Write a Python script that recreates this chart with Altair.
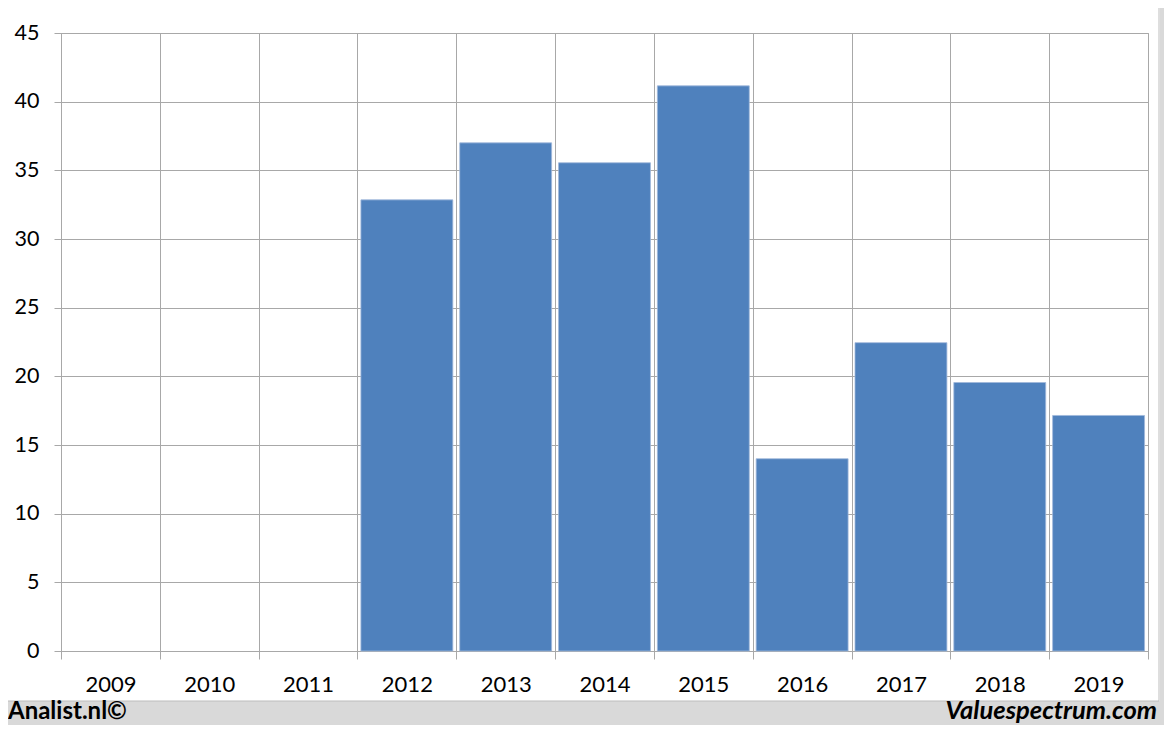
import altair as alt
import pandas as pd

years = ["2009", "2010", "2011", "2012", "2013", "2014", "2015", "2016", "2017", "2018", "2019"]
values = [None, None, None, 32.85, 37.0, 35.55, 41.15, 14.0, 22.45, 19.55, 17.15]
y_ticks = [0, 5, 10, 15, 20, 25, 30, 35, 40, 45]
left_text = "Analist.nl©"
right_text = "Valuespectrum.com"

df = pd.DataFrame({"year": years, "value": values})

GRID = "#a8a8a8"
BAR = "#4f81bd"
FRAME = "#d9d9d9"

bars = alt.Chart(df).mark_bar(
    color=BAR, stroke="#9fb7da", strokeWidth=0.8, width=alt.RelativeBandSize(0.93)
).encode(
    x=alt.X("year:N", sort=years,
            scale=alt.Scale(domain=years, paddingInner=0, paddingOuter=0),
            axis=alt.Axis(title=None, labelAngle=0, tickBand="extent", grid=True,
                          gridColor=GRID, gridWidth=1, domainColor=GRID, tickColor=GRID,
                          tickSize=8, labelFont="Lato", labelFontSize=22, labelColor="black",
                          labelPadding=15)),
    y=alt.Y("value:Q",
            scale=alt.Scale(domain=[0, 45], nice=False),
            axis=alt.Axis(title=None, values=y_ticks, grid=True, gridColor=GRID, gridWidth=1,
                          domainColor=GRID, tickColor=GRID, tickSize=7, labelFont="Lato",
                          labelFontSize=21.5, labelColor="black", labelPadding=15)),
)

one = alt.Data(values=[{"k": 1}])

bottom_band = alt.Chart(one).mark_rect(color=FRAME).encode(
    x=alt.value(-53), x2=alt.value(1103), y=alt.value(668), y2=alt.value(692)
)
right_band = alt.Chart(one).mark_rect(color=FRAME).encode(
    x=alt.value(1099), x2=alt.value(1103), y=alt.value(-26), y2=alt.value(692)
)
band_line = alt.Chart(one).mark_rule(color="#bdbdbd", strokeWidth=1).encode(
    x=alt.value(-53), x2=alt.value(1098), y=alt.value(668)
)
right_line = alt.Chart(one).mark_rule(color="#bdbdbd", strokeWidth=1).encode(
    x=alt.value(1098), y=alt.value(-26), y2=alt.value(668)
)

txt_left = alt.Chart(alt.Data(values=[{"t": left_text}])).mark_text(
    align="left", baseline="alphabetic", font="Lato", fontSize=24, fontWeight="bold", color="black"
).encode(x=alt.value(-53), y=alt.value(686), text="t:N")

txt_right = alt.Chart(alt.Data(values=[{"t": right_text}])).mark_text(
    align="right", baseline="alphabetic", font="Lato", fontSize=25.5, fontWeight="bold",
    fontStyle="italic", color="black"
).encode(x=alt.value(1096), y=alt.value(686), text="t:N")

chart = alt.layer(bars, bottom_band, right_band, band_line, right_line, txt_left, txt_right).properties(
    width=1087, height=618,
    autosize=alt.AutoSizeParams(type="none"),
    padding={"left": 53, "top": 25, "right": 16, "bottom": 74},
    background="white",
).configure_view(stroke=GRID, strokeWidth=1)

chart.save("out.html", embed_options={"renderer": "svg", "actions": False})
